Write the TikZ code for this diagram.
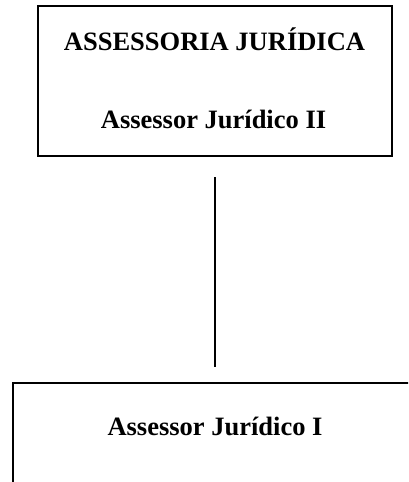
\documentclass[tikz,border=0pt]{standalone}
\usepackage{fontspec}
\setmainfont{Liberation Serif}
\begin{document}
\begin{tikzpicture}[x=1pt,y=-1pt,
  frame/.style={draw, line width=2pt, rectangle, inner sep=0pt},
  title/.style={font=\fontsize{26.5}{30}\selectfont\bfseries, anchor=base, inner sep=0pt},
  link/.style={line width=2pt}]
\useasboundingbox (0,0) rectangle (408,482);
\clip (0,0) rectangle (408,482);
% upper unit
\node[frame, minimum width=354pt, minimum height=150pt] (upper) at (214.5,81) {};
\node[title] (head) at (214.5,50) {ASSESSORIA JURÍDICA};
\node[title] (chief) at (213.5,128) {Assessor Jurídico II};
% lower unit (continues past the page edge)
\node[frame, anchor=north west, minimum width=420pt, minimum height=130pt] (lower) at (12,382) {};
\node[title] (staff) at (215,435) {Assessor Jurídico I};
% connector between the units
\coordinate (lowtop) at (upper.south |- lower.north);
\draw[link] ([yshift=-20pt]upper.south) -- ([yshift=15pt]lowtop);
\end{tikzpicture}
\end{document}
